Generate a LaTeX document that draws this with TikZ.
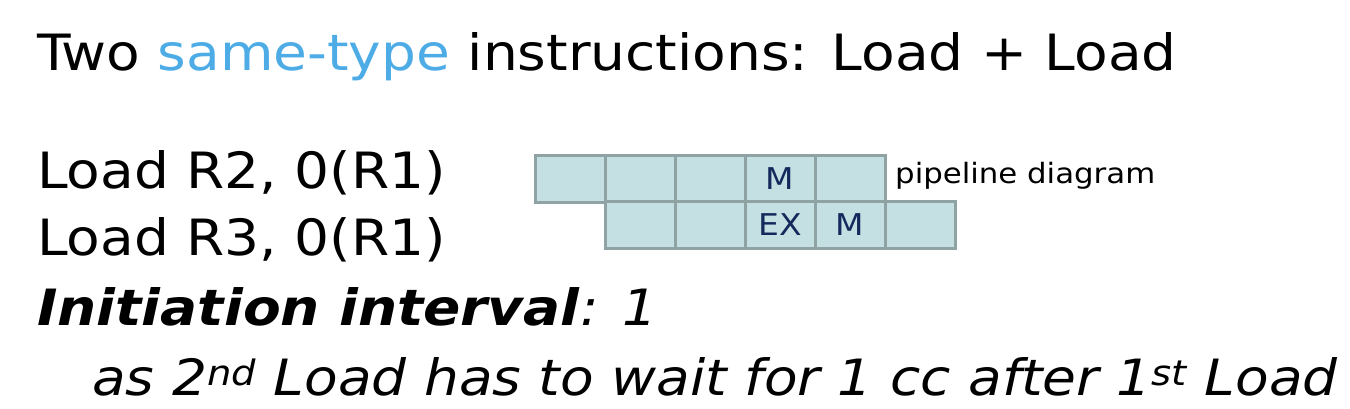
\documentclass[tikz,border=0pt]{standalone}
\usepackage{fontspec}
\setmainfont[FakeStretch=1.1]{DejaVu Sans}
\definecolor{titleblue}{HTML}{4DACE6}
\definecolor{cellfill}{HTML}{C4E0E3}
\definecolor{cellline}{HTML}{8FA3A5}
\definecolor{cellink}{HTML}{152A5C}

\tikzset{
    big/.style={anchor=base west, inner sep=0pt, font=\fontsize{50}{60}\selectfont},
    cell/.style={draw=cellline, fill=cellfill, line width=3pt, minimum width=70pt,
        minimum height=47pt, inner sep=0pt, text=cellink, font=\fontsize{30}{34}\selectfont}
}

\begin{document}
\begin{tikzpicture}[x=1pt,y=-1pt]
    \useasboundingbox (0,0) rectangle (1350,408);

    % Title
    \node[big] (title) at (37,70) {Two \textcolor{titleblue}{same-type} instructions: Load + Load};

    % Instructions
    \node[big] (loadA) at (37,188) {Load R2, 0(R1)};
    \node[big] (loadB) at (37,255) {Load R3, 0(R1)};

    % Pipeline diagram
    \foreach \i/\txt in {0/,1/,2/,3/M,4/}
        \node[cell] (a\i) at (570+70*\i,178.5) {\txt};
    \foreach \i/\txt in {0/,1/,2/EX,3/M,4/}
        \node[cell] (b\i) at (640+70*\i,225) {\txt};
    \node[anchor=base west, inner sep=0pt, font=\fontsize{28}{32}\selectfont] (pipe) at (895,183) {pipeline diagram};

    % Interval
    \node[big] (interval) at (37,325) {\textbf{\textit{Initiation interval}}\textit{: 1}};
    \node[big] (reason) at (92,395) {\textit{as 2\textsuperscript{nd} Load has to wait for 1 cc after 1\textsuperscript{st} Load}};
\end{tikzpicture}
\end{document}
